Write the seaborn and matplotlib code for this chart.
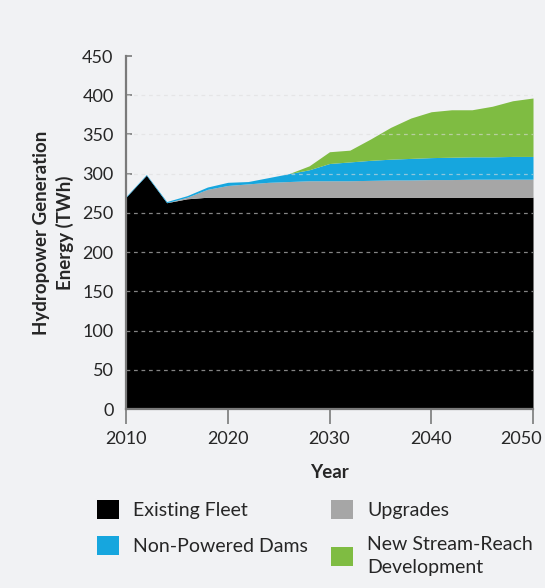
import matplotlib
matplotlib.use("Agg")
import matplotlib.pyplot as plt
from matplotlib.patches import Patch
from matplotlib.transforms import ScaledTranslation
import pandas as pd
import seaborn as sns

# values (TWh), every 2 years
years = list(range(2010, 2052, 2))
existing_fleet = [270, 298, 263, 268, 270, 270, 270, 270, 270, 270, 270,
                  270, 270, 270, 270, 270, 270, 270, 270, 270, 270]
upgrades = [0, 0, 0, 2, 10, 15, 17, 19, 20, 21, 21,
            21, 21.5, 22, 22, 22.5, 22.5, 23, 23, 23, 23]
non_powered_dams = [1, 1, 1.5, 2, 3, 4, 3, 6, 10, 14, 22,
                    24, 25.5, 26.5, 27.5, 28, 28.5, 28.5, 28.5, 29, 29]
new_stream_reach = [0, 0, 0, 0, 0, 0, 0, 0, 0, 5, 15,
                    15, 27, 40.5, 51.5, 58.5, 60.5, 60, 64.5, 71, 74.5]

series_names = ["Existing Fleet", "Upgrades", "Non-Powered Dams", "New Stream-Reach\nDevelopment"]
colors = ["#000000", "#a6a6a6", "#16a6de", "#7fbc42"]

df = pd.DataFrame({
    "year": years,
    series_names[0]: existing_fleet,
    series_names[1]: upgrades,
    series_names[2]: non_powered_dams,
    series_names[3]: new_stream_reach,
})

bg = "#f1f2f4"
sns.set_theme(style="white", rc={"figure.facecolor": bg, "axes.facecolor": bg})
plt.rcParams["font.family"] = ["Lato", "DejaVu Sans"]

fig = plt.figure(figsize=(5.45, 5.88), dpi=100)
ax = fig.add_axes([0.2312, 0.3044, 0.7468, 0.6003])

ax.stackplot(df["year"], [df[n] for n in series_names], colors=colors, linewidth=0)

for y in range(50, 450, 50):
    ax.axhline(y, color="#dddddd", alpha=0.6, lw=0.9, ls=(0, (3, 3)), zorder=3)

ax.set_xlim(2010, 2050)
ax.set_ylim(0, 450)
ax.set_xticks(range(2010, 2051, 10))
ax.set_yticks(range(0, 451, 50))

for side in ["top", "right"]:
    ax.spines[side].set_visible(False)
for side in ["left", "bottom"]:
    ax.spines[side].set_color("#7a7a7a")
    ax.spines[side].set_linewidth(1.6)
    ax.spines[side].set_zorder(4)

ax.tick_params(axis="x", direction="out", length=11, width=1.2, color="#7a7a7a",
               labelsize=13, pad=5, bottom=True)
ax.tick_params(axis="y", direction="in", length=4, width=1.2, color="#7a7a7a",
               labelsize=13, pad=9, left=True)

# last year label sits a bit left of its tick so it stays inside the figure
fig.canvas.draw()
last = ax.get_xticklabels()[-1]
last.set_transform(last.get_transform() + ScaledTranslation(-0.12, 0, fig.dpi_scale_trans))

ax.set_xlabel("Year", fontsize=13.5, fontweight="bold", labelpad=12)
ax.set_ylabel("Hydropower Generation\nEnergy (TWh)", fontsize=13.5, fontweight="bold",
              labelpad=6, linespacing=1.4)

handles = [Patch(facecolor=c, edgecolor="none") for c in colors]
order = [0, 2, 1, 3]
leg = fig.legend([handles[i] for i in order], [series_names[i] for i in order],
                 ncol=2, loc="upper left", bbox_to_anchor=(0.16, 0.166),
                 frameon=False, fontsize=14, handlelength=1.15, handleheight=1.15,
                 handletextpad=0.7, columnspacing=1.2, labelspacing=0.85, borderpad=0)
for t in leg.get_texts():
    t.set_linespacing(1.45)

fig.savefig("out.png", dpi=100, facecolor=bg)
